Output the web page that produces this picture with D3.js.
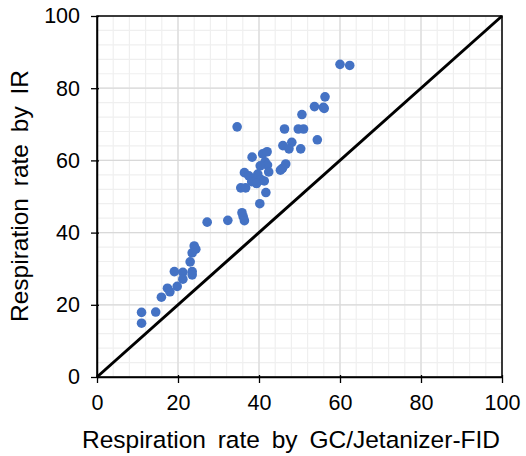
<!DOCTYPE html>
<html>
<head>
<meta charset="utf-8">
<script src="https://cdn.jsdelivr.net/npm/d3@7"></script>
<style>
  html, body { margin: 0; padding: 0; background: #fff; }
  svg { display: block; font-family: Arial, "Liberation Sans", sans-serif; }
</style>
</head>
<body>
<svg id="chart" width="526" height="456"></svg>
<script>
const gcValues = [60.0, 62.4, 56.3, 53.7, 55.9, 56.1, 50.6, 34.6, 46.3, 49.7, 51.0, 54.4, 45.9, 48.1, 47.4, 50.3, 38.3, 40.9, 42.0, 41.5, 42.1, 40.3, 46.6, 45.8, 45.3, 42.4, 36.4, 37.5, 39.7, 38.8, 40.5, 38.2, 39.4, 41.3, 35.5, 36.7, 41.7, 40.2, 27.2, 32.3, 35.8, 36.1, 36.4, 24.0, 24.4, 23.5, 23.0, 19.1, 21.2, 23.5, 23.5, 21.2, 19.8, 17.4, 18.0, 15.9, 11.0, 14.5, 11.0];
const irValues = [86.6, 86.3, 77.6, 74.9, 74.7, 74.4, 72.7, 69.3, 68.7, 68.7, 68.7, 65.7, 64.1, 65.0, 63.2, 63.2, 60.9, 61.8, 62.4, 59.6, 58.7, 58.5, 59.0, 57.8, 57.3, 56.8, 56.6, 55.7, 56.2, 55.0, 54.7, 54.1, 53.6, 54.3, 52.4, 52.4, 51.1, 48.0, 42.9, 43.4, 45.5, 44.4, 43.3, 36.3, 35.4, 34.4, 31.9, 29.2, 29.0, 29.2, 28.3, 27.1, 25.1, 24.6, 23.6, 22.1, 17.9, 18.0, 14.9];
const tickValues = [0, 20, 40, 60, 80, 100];
const minorTickValues = d3.range(0, 101, 4);
const lineEnds = [0, 100];
const xTitle = "Respiration rate by GC/Jetanizer-FID";
const yTitle = "Respiration rate by IR";

const points = gcValues.map((g, i) => ({ x: g, y: irValues[i] }));

const svg = d3.select("#chart");
const L = 97, R = 502, T = 16, B = 377;
const x = d3.scaleLinear().domain([0, 100]).range([L, R]);
const y = d3.scaleLinear().domain([0, 100]).range([B, T]);

// minor grid
const grid = svg.append("g");
grid.selectAll("line.mx").data(minorTickValues).join("line")
  .attr("x1", d => x(d)).attr("x2", d => x(d)).attr("y1", T).attr("y2", B)
  .attr("stroke", "#efefef").attr("stroke-width", 1.2);
grid.selectAll("line.my").data(minorTickValues).join("line")
  .attr("y1", d => y(d)).attr("y2", d => y(d)).attr("x1", L).attr("x2", R)
  .attr("stroke", "#efefef").attr("stroke-width", 1.2);
// major grid
grid.selectAll("line.Mx").data(tickValues).join("line")
  .attr("x1", d => x(d)).attr("x2", d => x(d)).attr("y1", T).attr("y2", B)
  .attr("stroke", "#d9d9d9").attr("stroke-width", 1.2);
grid.selectAll("line.My").data(tickValues).join("line")
  .attr("y1", d => y(d)).attr("y2", d => y(d)).attr("x1", L).attr("x2", R)
  .attr("stroke", "#d9d9d9").attr("stroke-width", 1.2);

// plot border
svg.append("rect").attr("x", L).attr("y", T).attr("width", R - L).attr("height", B - T)
  .attr("fill", "none").attr("stroke", "#000").attr("stroke-width", 1.5);

// axes
const xAxis = d3.axisBottom(x).tickValues(tickValues).tickSizeInner(6).tickSizeOuter(0).tickPadding(12);
const yAxis = d3.axisLeft(y).tickValues(tickValues).tickSizeInner(6).tickSizeOuter(0).tickPadding(11);
const gx = svg.append("g").attr("transform", `translate(0,${B})`).call(xAxis);
const gy = svg.append("g").attr("transform", `translate(${L},0)`).call(yAxis);
[gx, gy].forEach(g => {
  g.select(".domain").attr("stroke", "#000").attr("stroke-width", 1.5);
  g.selectAll(".tick line").attr("stroke", "#000").attr("stroke-width", 1.3);
  g.selectAll(".tick text").attr("fill", "#000").style("font-size", "21.5px")
    .style("font-family", "Arial, 'Liberation Sans', sans-serif");
});
gx.selectAll(".tick line").attr("y1", -2);
gy.selectAll(".tick line").attr("x1", 2);

// diagonal 1:1 line
svg.append("line")
  .attr("x1", x(lineEnds[0])).attr("y1", y(lineEnds[0]))
  .attr("x2", x(lineEnds[1])).attr("y2", y(lineEnds[1]))
  .attr("stroke", "#000").attr("stroke-width", 3);

// points
svg.append("g").selectAll("circle").data(points).join("circle")
  .attr("cx", d => x(d.x)).attr("cy", d => y(d.y)).attr("r", 4.8)
  .attr("fill", "#4472C4");

// titles
svg.append("text").attr("x", 291).attr("y", 448).attr("text-anchor", "middle")
  .style("font-size", "24.5px").style("word-spacing", "5px").attr("fill", "#000").text(xTitle);
svg.append("text").attr("transform", "translate(28,196) rotate(-90)").attr("text-anchor", "middle")
  .style("font-size", "24.5px").style("word-spacing", "5px").attr("fill", "#000").text(yTitle);
</script>
</body>
</html>
